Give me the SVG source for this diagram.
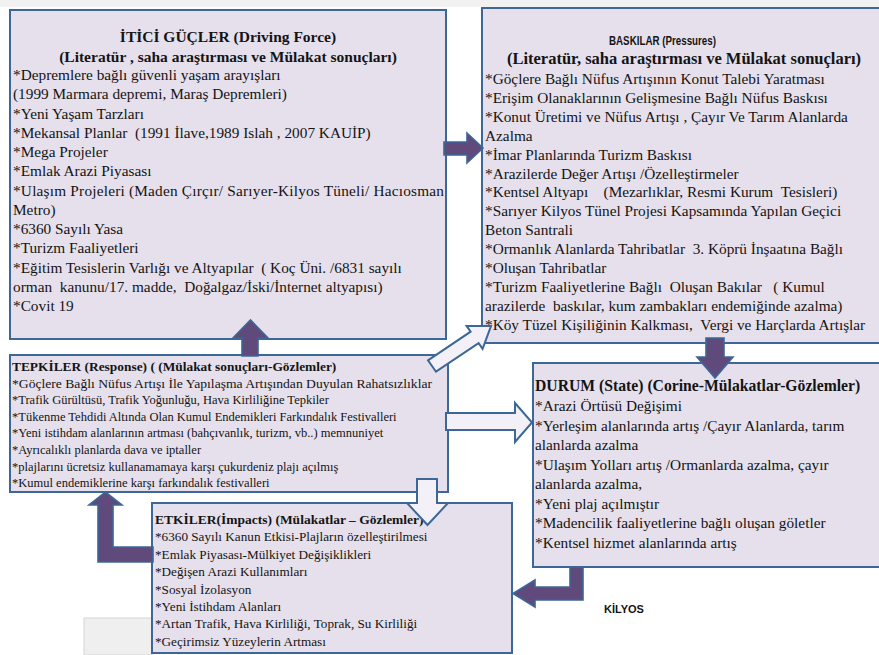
<svg xmlns="http://www.w3.org/2000/svg" width="879" height="655" viewBox="0 0 879 655">
  <style>
    .box { fill: #e6e0ec; stroke: #3d6797; stroke-width: 2; }
    .t { font-family: "Liberation Serif", "Times New Roman", serif; fill: #141414; white-space: pre; }
    .s15 { font-size: 15.3px; }
    .s125 { font-size: 12.5px; }
    .s13 { font-size: 13.2px; }
    .bold { font-weight: bold; }
    .sans { font-family: "Liberation Sans", Arial, sans-serif; font-weight: bold; fill: #141414; }
    .arrP { fill: #5f4a7b; stroke: #3d6797; stroke-width: 1.6; stroke-linejoin: miter; }
    .arrW { fill: #f3f0f7; stroke: #3d6797; stroke-width: 2; stroke-linejoin: miter; }
  </style>

  <!-- page background -->
  <rect x="0" y="0" width="879" height="655" fill="#ffffff"/>
  <rect x="0" y="0" width="879" height="7" fill="#f1f1f1"/>
  <rect x="84" y="618" width="68" height="37" fill="#efefef" stroke="#d6d6d6" stroke-width="1"/>

  <!-- Driving forces -->
  <g id="node-itici">
    <rect class="box" x="10" y="10" width="436" height="329"/>
    <text class="t bold" font-size="15.5" x="228" y="42" text-anchor="middle">İTİCİ GÜÇLER (Driving Force)</text>
    <text class="t bold" font-size="15.5" x="228" y="61.5" text-anchor="middle">(Literatür , saha araştırması ve Mülakat sonuçları)</text>
    <text class="t s15" x="13" y="80">*Depremlere bağlı güvenli yaşam arayışları</text>
    <text class="t s15" x="13" y="99.3">(1999 Marmara depremi, Maraş Depremleri)</text>
    <text class="t s15" x="13" y="118.5">*Yeni Yaşam Tarzları</text>
    <text class="t s15" x="13" y="137.8">*Mekansal Planlar  (1991 İlave,1989 Islah , 2007 KAUİP)</text>
    <text class="t s15" x="13" y="157">*Mega Projeler</text>
    <text class="t s15" x="13" y="176.3">*Emlak Arazi Piyasası</text>
    <text class="t s15" x="13" y="195.5" textLength="431" lengthAdjust="spacing">*Ulaşım Projeleri (Maden Çırçır/ Sarıyer-Kilyos Tüneli/ Hacıosman</text>
    <text class="t s15" x="13" y="214.8">Metro)</text>
    <text class="t s15" x="13" y="234">*6360 Sayılı Yasa</text>
    <text class="t s15" x="13" y="253.3">*Turizm Faaliyetleri</text>
    <text class="t s15" x="13" y="272.5">*Eğitim Tesislerin Varlığı ve Altyapılar  ( Koç Üni. /6831 sayılı</text>
    <text class="t s15" x="13" y="291.8">orman  kanunu/17. madde,  Doğalgaz/İski/İnternet altyapısı)</text>
    <text class="t s15" x="13" y="311">*Covit 19</text>
  </g>

  <!-- Pressures -->
  <g id="node-baskilar">
    <rect class="box" x="482" y="8" width="402" height="335"/>
    <text class="sans" x="609" y="45" font-size="13.5" textLength="107" lengthAdjust="spacingAndGlyphs">BASKILAR (Pressures)</text>
    <text class="t bold" font-size="16.5" x="684" y="64" text-anchor="middle">(Literatür, saha araştırması ve Mülakat sonuçları)</text>
    <text class="t s15" x="485" y="84">*Göçlere Bağlı Nüfus Artışının Konut Talebi Yaratması</text>
    <text class="t s15" x="485" y="103">*Erişim Olanaklarının Gelişmesine Bağlı Nüfus Baskısı</text>
    <text class="t s15" x="485" y="122">*Konut Üretimi ve Nüfus Artışı , Çayır Ve Tarım Alanlarda</text>
    <text class="t s15" x="485" y="141">Azalma</text>
    <text class="t s15" x="485" y="160">*İmar Planlarında Turizm Baskısı</text>
    <text class="t s15" x="485" y="179">*Arazilerde Değer Artışı /Özelleştirmeler</text>
    <text class="t s15" x="485" y="197">*Kentsel Altyapı    (Mezarlıklar, Resmi Kurum  Tesisleri)</text>
    <text class="t s15" x="485" y="216">*Sarıyer Kilyos Tünel Projesi Kapsamında Yapılan Geçici</text>
    <text class="t s15" x="485" y="235">Beton Santrali</text>
    <text class="t s15" x="485" y="254">*Ormanlık Alanlarda Tahribatlar  3. Köprü İnşaatına Bağlı</text>
    <text class="t s15" x="485" y="273">*Oluşan Tahribatlar</text>
    <text class="t s15" x="485" y="292">*Turizm Faaliyetlerine Bağlı  Oluşan Bakılar   ( Kumul</text>
    <text class="t s15" x="485" y="311">arazilerde  baskılar, kum zambakları endemiğinde azalma)</text>
    <text class="t s15" x="485" y="330">*Köy Tüzel Kişiliğinin Kalkması,  Vergi ve Harçlarda Artışlar</text>
  </g>

  <!-- Responses -->
  <g id="node-tepkiler">
    <rect class="box" x="10" y="355" width="438" height="137"/>
    <text class="t bold" font-size="13.4" x="12" y="371">TEPKİLER (Response) ( (Mülakat sonuçları-Gözlemler)</text>
    <text class="t s125" x="12" y="387.6" textLength="420" lengthAdjust="spacingAndGlyphs">*Göçlere Bağlı Nüfus Artışı İle Yapılaşma Artışından Duyulan Rahatsızlıklar</text>
    <text class="t s125" x="12" y="404.2">*Trafik Gürültüsü, Trafik Yoğunluğu, Hava Kirliliğine Tepkiler</text>
    <text class="t s125" x="12" y="420.8">*Tükenme Tehdidi Altında Olan Kumul Endemikleri Farkındalık Festivalleri</text>
    <text class="t s125" x="12" y="437.4">*Yeni istihdam alanlarının artması (bahçıvanlık, turizm, vb..) memnuniyet</text>
    <text class="t s125" x="12" y="454">*Ayrıcalıklı planlarda dava ve iptaller</text>
    <text class="t s125" x="12" y="470.6">*plajlarını ücretsiz kullanamamaya karşı çukurdeniz plajı açılmış</text>
    <text class="t s125" x="12" y="487.2">*Kumul endemiklerine karşı farkındalık festivalleri</text>
  </g>

  <!-- State -->
  <g id="node-durum">
    <rect class="box" x="533" y="363" width="350" height="204"/>
    <text class="t bold" font-size="15.7" x="535" y="391">DURUM (State) (Corine-Mülakatlar-Gözlemler)</text>
    <text class="t s15" x="535" y="411">*Arazi Örtüsü Değişimi</text>
    <text class="t s15" x="535" y="430.5">*Yerleşim alanlarında artış /Çayır Alanlarda, tarım</text>
    <text class="t s15" x="535" y="450">alanlarda azalma</text>
    <text class="t s15" x="535" y="469.5">*Ulaşım Yolları artış /Ormanlarda azalma, çayır</text>
    <text class="t s15" x="535" y="489">alanlarda azalma,</text>
    <text class="t s15" x="535" y="508.5">*Yeni plaj açılmıştır</text>
    <text class="t s15" x="535" y="528">*Madencilik faaliyetlerine bağlı oluşan göletler</text>
    <text class="t s15" x="535" y="547.5">*Kentsel hizmet alanlarında artış</text>
  </g>

  <!-- Impacts -->
  <g id="node-etkiler">
    <rect class="box" x="152" y="503" width="360" height="150"/>
    <text class="t bold" font-size="13.5" x="155" y="524">ETKİLER(İmpacts) (Mülakatlar – Gözlemler)</text>
    <text class="t s13" x="155" y="541.4">*6360 Sayılı Kanun Etkisi-Plajların özelleştirilmesi</text>
    <text class="t s13" x="155" y="558.8">*Emlak Piyasası-Mülkiyet Değişiklikleri</text>
    <text class="t s13" x="155" y="576.2">*Değişen Arazi Kullanımları</text>
    <text class="t s13" x="155" y="593.6">*Sosyal İzolasyon</text>
    <text class="t s13" x="155" y="611">*Yeni İstihdam Alanları</text>
    <text class="t s13" x="155" y="628.4">*Artan Trafik, Hava Kirliliği, Toprak, Su Kirliliği</text>
    <text class="t s13" x="155" y="645.8">*Geçirimsiz Yüzeylerin Artması</text>
  </g>

  <!-- Connectors: block arrows between the DPSIR stages -->
  <g id="connectors">
    <!-- responses feed back to driving forces -->
    <polygon class="arrP" points="242,356 242,338 233,338 250.5,320 268,338 258,338 258,356"/>
    <!-- driving forces to pressures -->
    <polygon class="arrP" points="444,142 467,142 467,133 483,148 467,163 467,155 444,155"/>
    <!-- pressures to state -->
    <polygon class="arrP" points="706,338 724,338 724,357 733,357 715,378 697,357 706,357"/>
    <!-- responses to pressures -->
    <polygon class="arrW" points="428,360.3 470.6,331.7 466.6,325.9 491,326 482.6,348.9 478.6,343.1 436,371.7"/>
    <!-- responses to state -->
    <polygon class="arrW" points="446,413 515,413 515,403 532,422.5 515,442 515,430 446,430"/>
    <!-- responses to impacts -->
    <polygon class="arrW" points="417,479 437,479 437,503 448,503 427.5,525 407,503 417,503"/>
    <!-- impacts back to responses -->
    <polygon class="arrP" points="153,547 113,547 113,505 122,505 105.5,492 89,505 98,505 98,562 153,562"/>
    <!-- state to impacts -->
    <polygon class="arrP" points="570,567 583,567 583,600 535,600 535,607 513,593.5 535,580 535,587 570,587"/>
  </g>

  <g id="label-kilyos">
    <text class="sans" x="604" y="613" font-size="11">KİLYOS</text>
  </g>
</svg>
